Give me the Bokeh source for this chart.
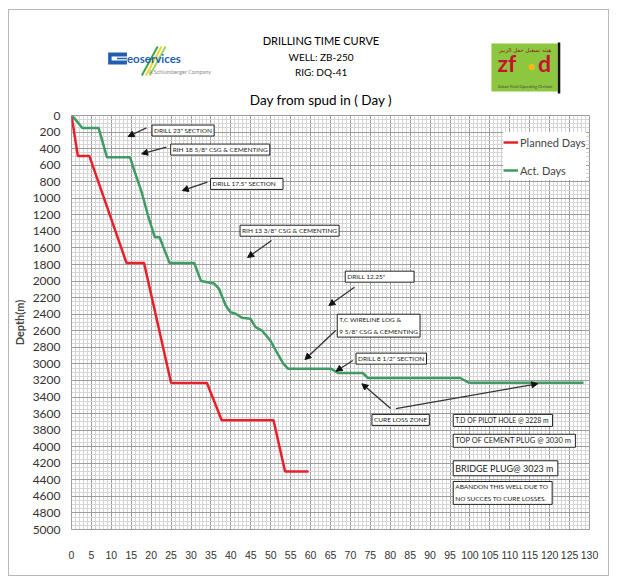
from bokeh.plotting import figure
from bokeh.layouts import column
from bokeh.models import Range1d, FixedTicker, Label, Arrow, NormalHead
from bokeh.core.properties import value
from bokeh.embed import file_html
from bokeh.resources import INLINE

# ---------------- data ----------------
planned_days = [0, 1.6, 4.5, 13.8, 18.2, 25.0, 34.0, 37.7, 50.7, 53.6, 59.5]
planned_depth = [0, 490, 490, 1780, 1780, 3230, 3230, 3680, 3680, 4300, 4300]

actual_days = [0, 1.2, 2.7, 6.8, 8.9, 14.7, 15.9, 17.6, 19.2, 20.9, 22.1, 24.6,
               30.8, 32.5, 35.8, 37.0, 38.7, 39.9, 41.2, 42.8, 44.9, 46.2, 47.8, 49.9,
               51.5, 53.2, 54.4, 65.2, 66.9, 73.1, 74.4, 97.6, 99.7, 128.5]
actual_depth = [0, 60, 150, 150, 505, 505, 684, 926, 1208, 1470, 1470, 1780,
                1780, 2000, 2030, 2090, 2295, 2375, 2395, 2443, 2455, 2557, 2597, 2717,
                2859, 3000, 3060, 3060, 3110, 3110, 3170, 3170, 3228, 3228]

x_ticks = [0, 5, 10, 15, 20, 25, 30, 35, 40, 45, 50, 55, 60, 65, 70, 75, 80, 85, 90,
           95, 100, 105, 110, 115, 120, 125, 130]
y_ticks = [0, 200, 400, 600, 800, 1000, 1200, 1400, 1600, 1800, 2000, 2200, 2400,
           2600, 2800, 3000, 3200, 3400, 3600, 3800, 4000, 4200, 4400, 4600, 4800, 5000]
x_minor = list(range(0, 131))
y_minor = list(range(0, 5001, 50))

NB = "\u00a0"
# annotation boxes: text, day, depth, font size
notes = [
    ('DRILL 23" SECTION', 20.2, 115, "6.5px"),
    ('RIH 18 5/8" CSG & CEMENTING', 24.9, 345, "6.5px"),
    ('DRILL 17.5" SECTION' + NB * 3, 34.9, 760, "6.5px"),
    ('RIH 13 3/8" CSG & CEMENTING', 42.3, 1325, "6.5px"),
    ('DRILL 12.25"' + NB * 16, 68.7, 1880, "6.5px"),
    ('T,C WIRELINE LOG &\n9 5/8" CSG & CEMENTING', 66.7, 2400, "6.5px"),
    ('DRILL 8 1/2" SECTION', 71.4, 2870, "6.5px"),
    ('CURE LOSS ZONE', 75.4, 3610, "6.5px"),
    ('T.D OF PILOT HOLE @  3228 m', 95.8, 3610, "6.8px"),
    ('TOP OF CEMENT PLUG @  3030 m', 95.8, 3850, "7.5px"),
    ('BRIDGE PLUG@  3023 m', 95.8, 4170, "9px"),
    ('ABANDON  THIS WELL DUE TO\nNO SUCCES TO CURE LOSSES.', 95.8, 4420, "6.5px"),
]
# arrows: start day, start depth, end day, end depth
arrows = [
    (18.8, 149, 14.2, 254),
    (23.8, 383, 17.6, 463),
    (34.1, 806, 27.8, 906),
    (50.2, 1510, 44.2, 1715),
    (71.0, 2074, 64.6, 2295),
    (66.3, 2597, 58.6, 2947),
    (70.6, 2959, 66.4, 3088),
    (80.1, 3539, 72.9, 3240),
    (81.4, 3539, 117.0, 3240),
]

RED = "#e8202a"
GREEN = "#3f9a63"
FONT = "Lato"
TICKFONT = "Liberation Sans"

# ---------------- header (coordinates are page pixels) ----------------
hdr = figure(width=599, height=98, output_backend="svg", toolbar_location=None,
             x_range=Range1d(66, 589), y_range=Range1d(108, 10),
             x_axis_type=None, y_axis_type=None,
             min_border_left=57, min_border_right=19, min_border_top=0,
             min_border_bottom=0,
             outline_line_color=None, background_fill_color="white",
             border_fill_color="white")


def htext(x, y, t, size, align="center", color="black", style="normal",
          font=FONT, baseline="middle"):
    hdr.text(x=[x], y=[y], text=[t], text_font=value(font), text_font_size=value(size),
             text_align=align, text_baseline=baseline, text_color=color,
             text_font_style=style)


htext(318, 40, "DRILLING TIME CURVE", "11px")
htext(318, 56, "WELL: ZB-250", "10px")
htext(318, 71, "RIG: DQ-41", "10px")
htext(318, 107.5, "Day from spud in ( Day )", "13.5px", baseline="bottom")

# Geoservices logo
hdr.segment(x0=[137, 141, 145], y0=[75, 75, 75], x1=[153, 157, 161], y1=[46, 46, 46],
            line_color=["#3aa845", "#f2d22e", "#9bd36a"], line_width=2)
hdr.quad(left=[103], right=[122], top=[52], bottom=[64], fill_color="#1f5fae",
         line_color=None)
hdr.quad(left=[106.5], right=[122], top=[56], bottom=[60], fill_color="white",
         line_color=None)
hdr.quad(left=[112], right=[122], top=[57.3], bottom=[58.7], fill_color="#1f5fae",
         line_color=None)
htext(122, 64.5, "eoservices", "11.5px", align="left", color="#1f5fae", style="bold",
      baseline="bottom")
htext(144, 71, "A Schlumberger Company", "5.5px", align="left", color="#8a8a8a")

# ZFOD logo
hdr.quad(left=[490], right=[557], top=[43], bottom=[91], fill_color="#8dc63f",
         line_color=None)
hdr.quad(left=[557], right=[559.5], top=[42], bottom=[93], fill_color="#111111",
         line_color=None)
htext(524, 49, "هيئة تشغيل حقل الزبير", "5.5px", color="#8b1a1a", font="DejaVu Sans")
htext(496, 76, "zf", "23px", align="left", color="#c8102e", style="bold", baseline="bottom")
htext(530, 65, "\u25CF", "13px", color="#f5b71a")
htext(537, 76, "d", "23px", align="left", color="#c8102e", style="bold", baseline="bottom")
htext(524, 86, "Zubair Field Operating Division", "4px", color="#444444")

# ---------------- main chart ----------------
p = figure(width=599, height=467, output_backend="svg", toolbar_location=None,
           x_range=Range1d(0, 130), y_range=Range1d(5000, 0),
           min_border_left=57, min_border_right=19, min_border_top=7,
           min_border_bottom=46, background_fill_color="white",
           border_fill_color="white")

p.line(planned_days, planned_depth, color=RED, line_width=2.5, legend_label="Planned Days")
p.line(actual_days, actual_depth, color=GREEN, line_width=2.5, legend_label="Act. Days")

p.xaxis.ticker = FixedTicker(ticks=x_ticks, minor_ticks=x_minor)
p.yaxis.ticker = FixedTicker(ticks=y_ticks, minor_ticks=y_minor)
for ax in (p.xaxis, p.yaxis):
    ax.axis_line_color = None
    ax.major_tick_line_color = None
    ax.minor_tick_line_color = None
    ax.major_label_text_color = "#333333"
p.xaxis.major_label_text_font = TICKFONT
p.xaxis.major_label_text_font_size = "10.5px"
p.yaxis.major_label_text_font = FONT
p.yaxis.major_label_text_font_size = "12px"
p.xaxis.major_label_standoff = 15
p.yaxis.major_label_standoff = 5
p.yaxis.axis_label = "Depth(m)"
p.yaxis.axis_label_text_font = FONT
p.yaxis.axis_label_text_font_style = "bold"
p.yaxis.axis_label_text_font_size = "11px"
p.yaxis.axis_label_standoff = 4

for g in (p.xgrid, p.ygrid):
    g.grid_line_color = "#9c9c9c"
    g.grid_line_width = 1
    g.minor_grid_line_color = "#d6d6d6"
    g.minor_grid_line_width = 1
p.outline_line_color = "#9c9c9c"

lg = p.legend[0]
lg.location = (432, 349)
lg.border_line_color = None
lg.background_fill_color = "white"
lg.background_fill_alpha = 1
lg.label_text_font = FONT
lg.label_text_font_size = "11px"
lg.glyph_width = 15
lg.label_standoff = 2
lg.padding = 7
lg.spacing = 8
lg.margin = 0

for txt, d, dep, fs in notes:
    p.add_layout(Label(x=d, y=dep, text=txt, text_font=FONT, text_font_size=fs,
                       text_align="left", text_baseline="top", text_color="#222222",
                       background_fill_color="white", border_line_color="#222222",
                       border_line_width=1, padding=2, text_line_height=1.7))

for x0, y0, x1, y1 in arrows:
    p.add_layout(Arrow(x_start=x0, y_start=y0, x_end=x1, y_end=y1,
                       line_color="#333333", line_width=1.3,
                       end=NormalHead(size=6, fill_color="#111111", line_color="#111111")))

layout = column(hdr, p, spacing=0, margin=(9, 0, 0, 8),
                styles={"border": "1px solid #b8b8b8"})

open("out.html", "w").write(file_html(layout, INLINE))
